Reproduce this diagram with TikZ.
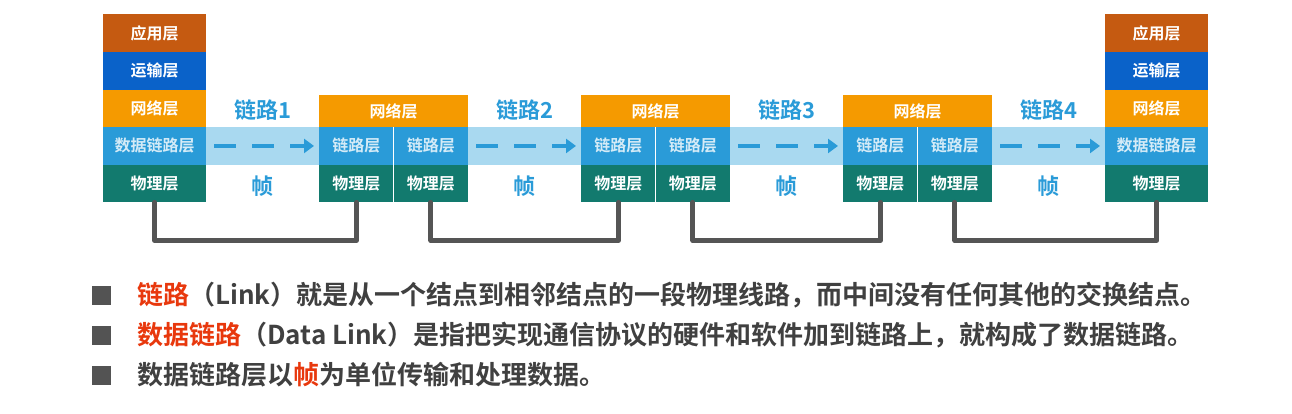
\documentclass[tikz,border=0pt]{standalone}
\usepackage{fontspec}
\setmainfont{Noto Sans CJK SC}[BoldFont={Noto Sans CJK SC Bold}]
\usetikzlibrary{arrows.meta}
\definecolor{appc}{HTML}{C55A11}
\definecolor{trc}{HTML}{0A62C9}
\definecolor{netc}{HTML}{F59A00}
\definecolor{dlc}{HTML}{2A9BD8}
\definecolor{phc}{HTML}{127A6E}
\definecolor{bandc}{HTML}{A9D9F0}
\definecolor{wirec}{HTML}{555555}
\definecolor{txtc}{HTML}{404040}
\definecolor{redc}{HTML}{E8380D}
\begin{document}
\begin{tikzpicture}[x=1pt,y=-1pt,
  lay/.style={minimum height=37.5pt,inner sep=0pt,text=white,font=\bfseries\fontsize{16}{16}\selectfont,anchor=north west},
  wire/.style={wirec,line width=5pt,line join=round,line cap=round},
  dash arrow/.style={dlc,line width=4pt,dash pattern=on 22pt off 16pt,-{Triangle[length=10pt,width=14pt]}},
  lbl/.style={text=dlc,font=\bfseries\fontsize{22}{22}\selectfont},
  sq/.style={fill=txtc!90,minimum size=19pt,inner sep=0pt},
  line/.style={anchor=west,text=txtc,font=\bfseries\fontsize{26}{26}\selectfont,inner sep=0pt}]
\useasboundingbox (0,0) rectangle (1292,414);
\fill[bandc] (206,127) rectangle (1105,165);
% hosts
\foreach \n/\x in {h1/103,h2/1105}{
 \node[lay,fill=appc,minimum width=103pt] (\n a) at (\x,14) {应用层};
 \node[lay,fill=trc,minimum width=103pt] (\n t) at (\x,52) {运输层};
 \node[lay,fill=netc,minimum width=103pt] (\n n) at (\x,89.5) {网络层};
 \node[lay,fill=dlc,minimum width=103pt,text=white!80!dlc] (\n d) at (\x,127) {数据链路层};
 \node[lay,fill=phc,minimum width=103pt] (\n p) at (\x,164.5) {物理层};
}
% routers
\foreach \n/\x in {r1/319,r2/581,r3/843}{
 \node[lay,fill=netc,minimum width=149pt,minimum height=32pt] (\n n) at (\x,95) {网络层};
 \node[lay,fill=dlc,minimum width=74.5pt,text=white!80!dlc] (\n dl) at (\x,127) {链路层};
 \node[lay,fill=dlc,minimum width=74.5pt,text=white!80!dlc] (\n dr) at (\x+74.5,127) {链路层};
 \node[lay,fill=phc,minimum width=74.5pt] (\n pl) at (\x,164.5) {物理层};
 \node[lay,fill=phc,minimum width=74.5pt] (\n pr) at (\x+74.5,164.5) {物理层};
 \draw[white,line width=1pt] (\x+74.5,127) -- (\x+74.5,202);
}
% arrows and labels
\foreach \a/\b/\k in {h1d/r1dl/1,r1dr/r2dl/2,r2dr/r3dl/3,r3dr/h2d/4}{
 \draw[dash arrow] ([xshift=8pt]\a.east) -- ([xshift=-5pt]\b.west);
 \path (\a.east) -- (\b.west) node[midway,lbl,yshift=36pt] (l\k) {链路\k}
   node[midway,lbl,yshift=-40pt] (f\k) {帧};
}
% wires
\foreach \a/\b in {h1p/r1pl,r1pr/r2pl,r2pr/r3pl,r3pr/h2p}{
 \draw[wire] (\a.south) -- ++(0,38) -| (\b.south);
}
% text
\node[sq] (s1) at (101,295) {};
\node[sq] (s2) at (101,335) {};
\node[sq] (s3) at (101,375) {};
\node[line] (t1) at (137,295) {\textcolor{redc}{链路}（Link）就是从一个结点到相邻结点的一段物理线路，而中间没有任何其他的交换结点。};
\node[line] (t2) at (137,335) {\textcolor{redc}{数据链路}（Data Link）是指把实现通信协议的硬件和软件加到链路上，就构成了数据链路。};
\node[line] (t3) at (137,375) {数据链路层以\textcolor{redc}{帧}为单位传输和处理数据。};
\end{tikzpicture}
\end{document}
